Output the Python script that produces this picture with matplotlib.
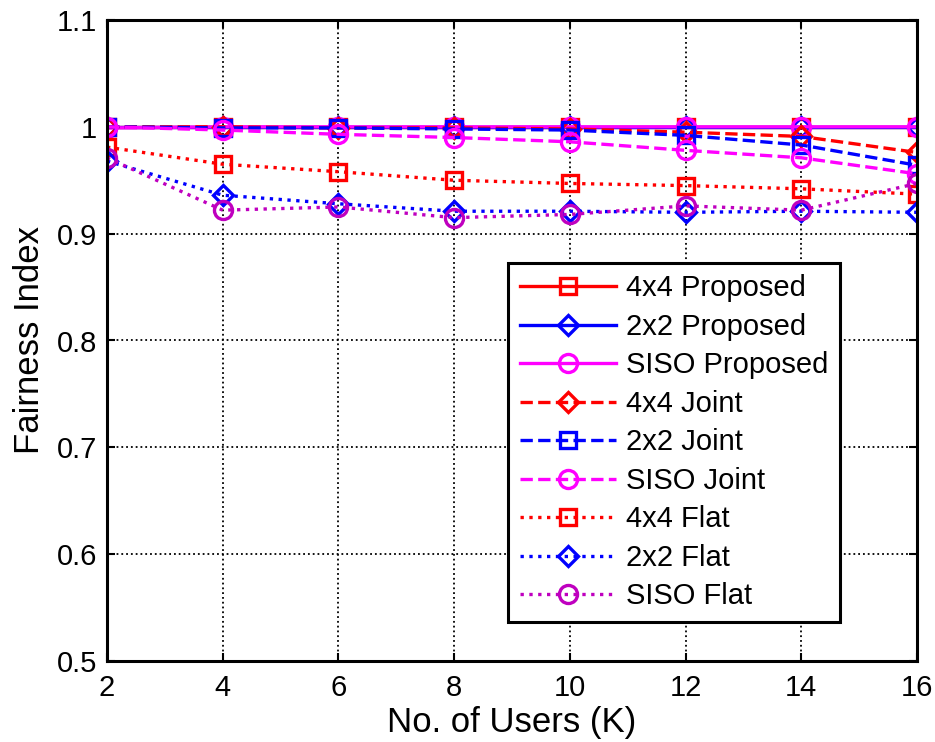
import matplotlib
matplotlib.use("Agg")
import matplotlib.pyplot as plt

plt.rcParams['font.family'] = ['Liberation Sans', 'DejaVu Sans']

users = [2, 4, 6, 8, 10, 12, 14, 16]

# Proposed
p_4x4 = [1.0, 1.0, 1.0, 1.0, 1.0, 1.0, 1.0, 1.0]
p_2x2 = [1.0, 1.0, 1.0, 1.0, 1.0, 1.0, 1.0, 1.0]
p_siso = [0.999, 1.0, 1.0, 1.0, 1.0, 1.0, 1.0, 1.0]
# Joint
j_4x4 = [1.0, 1.0, 0.999, 0.999, 0.998, 0.995, 0.991, 0.976]
j_2x2 = [1.0, 0.999, 0.999, 0.998, 0.997, 0.992, 0.983, 0.964]
j_siso = [1.0, 0.997, 0.993, 0.990, 0.986, 0.978, 0.971, 0.956]
# Flat
f_4x4 = [0.981, 0.965, 0.958, 0.950, 0.947, 0.945, 0.942, 0.937]
f_2x2 = [0.968, 0.936, 0.928, 0.921, 0.921, 0.920, 0.921, 0.920]
f_siso = [0.971, 0.922, 0.925, 0.915, 0.918, 0.926, 0.922, 0.947]

red = (1, 0, 0)
blue = (0, 0, 1)
mag = (1, 0, 1)
purp = (0.75, 0, 0.75)

fig = plt.figure(figsize=(9.35, 7.42), dpi=100)
ax = fig.add_axes([107/935, 81/742, 810/935, 641/742])

kw = dict(linewidth=2.4, markeredgewidth=2.4, markerfacecolor='none')
sq = dict(kw, markersize=11)
di = dict(kw, markersize=10)
ci = dict(kw, markersize=13)
ax.plot(users, p_4x4, '-s', color=red, label='4x4 Proposed', **sq)
ax.plot(users, p_2x2, '-D', color=blue, label='2x2 Proposed', **di)
ax.plot(users, p_siso, '-o', color=mag, label='SISO Proposed', **ci)
ax.plot(users, j_4x4, '--D', color=red, label='4x4 Joint', **di)
ax.plot(users, j_2x2, '--s', color=blue, label='2x2 Joint', **sq)
ax.plot(users, j_siso, '--o', color=mag, label='SISO Joint', **ci)
ax.plot(users, f_4x4, ':s', color=red, label='4x4 Flat', **sq)
ax.plot(users, f_2x2, ':D', color=blue, label='2x2 Flat', **di)
ax.plot(users, f_siso, ':o', color=purp, label='SISO Flat', **ci)

ax.set_xlim(2, 16)
ax.set_ylim(0.5, 1.1)
ax.set_xticks(users)
ax.set_yticks([0.5, 0.6, 0.7, 0.8, 0.9, 1.0, 1.1])
ax.set_yticklabels(['0.5', '0.6', '0.7', '0.8', '0.9', '1', '1.1'])
ax.tick_params(direction='in', labelsize=21, length=6, width=1.5, top=True, right=True)
ax.tick_params(axis='x', pad=9)
ax.tick_params(axis='y', pad=7)
ax.grid(True, color='black', linestyle=':', linewidth=1.3)
for s in ax.spines.values():
    s.set_linewidth(2.2)

ax.set_xlabel('No. of Users (K)', fontsize=25, labelpad=3)
ax.set_ylabel('Fairness Index', fontsize=25, labelpad=8)

leg = ax.legend(loc='lower right', bbox_to_anchor=(0.905, 0.061), fontsize=21,
                handlelength=3.3, handletextpad=0.35, labelspacing=0.36,
                borderpad=0.4, borderaxespad=0, fancybox=False, framealpha=1,
                edgecolor='black')
leg.get_frame().set_linewidth(2.2)

fig.savefig('out.png', dpi=100)
